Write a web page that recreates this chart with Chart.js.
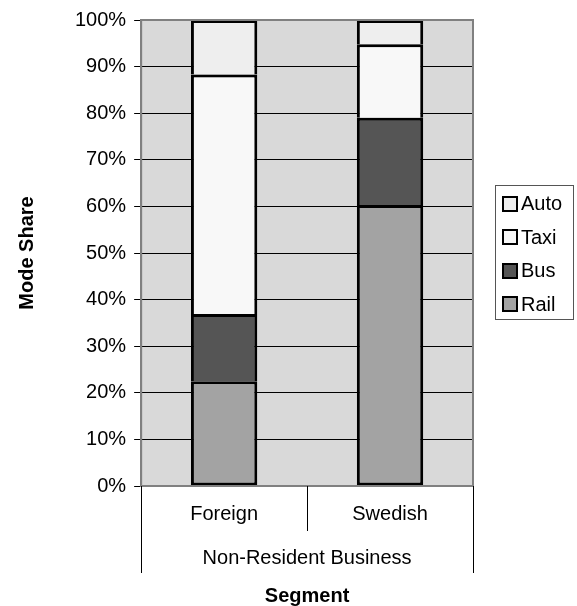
<!DOCTYPE html>
<html lang="en">
<head>
    <meta charset="UTF-8">
    <title>Mode Share by Segment</title>
    <script src="https://cdn.jsdelivr.net/npm/chart.js"></script>
    <style>
        body {
            margin: 0;
            background: white;
            font-family: "Liberation Sans", Arial, sans-serif;
        }
        .wrap {
            position: relative;
            width: 577px;
            height: 606px;
        }
        #legend {
            position: absolute;
            left: 495px;
            top: 185px;
            width: 79px;
            height: 135px;
            border: 1px solid #555;
            box-sizing: border-box;
            padding: 1px 0 0 6px;
        }
        #legend div {
            display: flex;
            align-items: center;
            height: 33.5px;
            font-size: 20px;
            color: #000;
        }
        #legend span.sw {
            width: 12px;
            height: 12px;
            border: 2px solid #000;
            margin-right: 3px;
            display: inline-block;
        }
    </style>
</head>
<body>
<div class="wrap">
    <canvas id="chart" width="577" height="606"></canvas>
    <div id="legend"></div>
</div>
<script>
    const categories = ['Foreign', 'Swedish'];
    const groupLabel = 'Non-Resident Business';
    const modes = ['Rail', 'Bus', 'Taxi', 'Auto'];
    const rail = [22.5, 60.3];
    const bus = [14.4, 18.7];
    const taxi = [51.4, 15.8];
    const auto = [11.7, 5.2];
    const modeColors = ['#a3a3a3', '#555555', '#f8f8f8', '#eeeeee'];

    const seriesValues = [rail, bus, taxi, auto];
    const FONT = '"Liberation Sans", Arial, sans-serif';

    // grey plot background, border and the category separator lines
    const plotBox = {
        id: 'plotBox',
        beforeDraw(chart) {
            const a = chart.chartArea;
            const ctx = chart.ctx;
            ctx.save();
            ctx.fillStyle = '#d9d9d9';
            ctx.fillRect(a.left, a.top, a.right - a.left, a.bottom - a.top);
            ctx.restore();
        },
        afterDraw(chart) {
            const a = chart.chartArea;
            const ctx = chart.ctx;
            const x = chart.scales.x;
            const x2 = chart.scales.x2;
            ctx.save();
            ctx.strokeStyle = '#808080';
            ctx.lineWidth = 2;
            ctx.strokeRect(a.left, a.top, a.right - a.left, a.bottom - a.top);

            // separators under the axis
            ctx.strokeStyle = '#000';
            ctx.lineWidth = 1;
            const half = (x.getPixelForTick(1) - x.getPixelForTick(0)) / 2;
            ctx.beginPath();
            for (let i = 0; i <= categories.length; i++) {
                const px = Math.round(x.getPixelForTick(0) - half + i * 2 * half) + 0.5;
                const outer = i === 0 || i === categories.length;
                const end = outer ? x2.top + 31 : x.bottom - 11;
                ctx.moveTo(px, a.bottom);
                ctx.lineTo(px, end);
            }
            ctx.stroke();
            ctx.restore();
        }
    };

    const ctx = document.getElementById('chart').getContext('2d');
    new Chart(ctx, {
        type: 'bar',
        data: {
            labels: categories,
            datasets: modes.map((m, i) => ({
                label: m,
                data: seriesValues[i],
                backgroundColor: modeColors[i],
                borderColor: '#000',
                borderWidth: 3,
                borderSkipped: i === 0 ? false : 'bottom',
                inflateAmount: 0,
                barPercentage: 0.4,
                categoryPercentage: 1
            }))
        },
        options: {
            responsive: false,
            animation: false,
            layout: { padding: { left: 15, right: 104, top: 11, bottom: 0 } },
            plugins: {
                legend: { display: false },
                tooltip: { enabled: false }
            },
            scales: {
                x: {
                    stacked: true,
                    offset: true,
                    weight: 0,
                    grid: { display: false, drawTicks: false },
                    border: { display: false },
                    ticks: {
                        padding: 16,
                        color: '#000',
                        font: { size: 20, family: FONT }
                    }
                },
                x2: {
                    type: 'category',
                    labels: [groupLabel],
                    position: 'bottom',
                    offset: true,
                    weight: 1,
                    grid: { display: false, drawTicks: false },
                    border: { display: false },
                    ticks: {
                        padding: 4,
                        color: '#000',
                        font: { size: 20, family: FONT }
                    },
                    title: {
                        display: true,
                        text: 'Segment',
                        color: '#000',
                        padding: { top: 10, bottom: -2 },
                        font: { size: 20, weight: 'bold', family: FONT }
                    }
                },
                y: {
                    stacked: true,
                    min: 0,
                    max: 100,
                    grid: {
                        color: '#000',
                        tickLength: 7
                    },
                    border: { display: true, color: '#808080', width: 2 },
                    ticks: {
                        stepSize: 10,
                        padding: 8,
                        color: '#000',
                        font: { size: 20, family: FONT },
                        callback: v => v + '%'
                    },
                    title: {
                        display: true,
                        text: 'Mode Share',
                        color: '#000',
                        padding: { top: 0, bottom: 28 },
                        font: { size: 20, weight: 'bold', family: FONT }
                    }
                }
            }
        },
        plugins: [plotBox]
    });

    // legend, top to bottom in reverse stack order
    const legendEl = document.getElementById('legend');
    for (let i = modes.length - 1; i >= 0; i--) {
        const row = document.createElement('div');
        row.innerHTML = '<span class="sw" style="background:' + modeColors[i] + '"></span>' + modes[i];
        legendEl.appendChild(row);
    }
</script>
</body>
</html>
